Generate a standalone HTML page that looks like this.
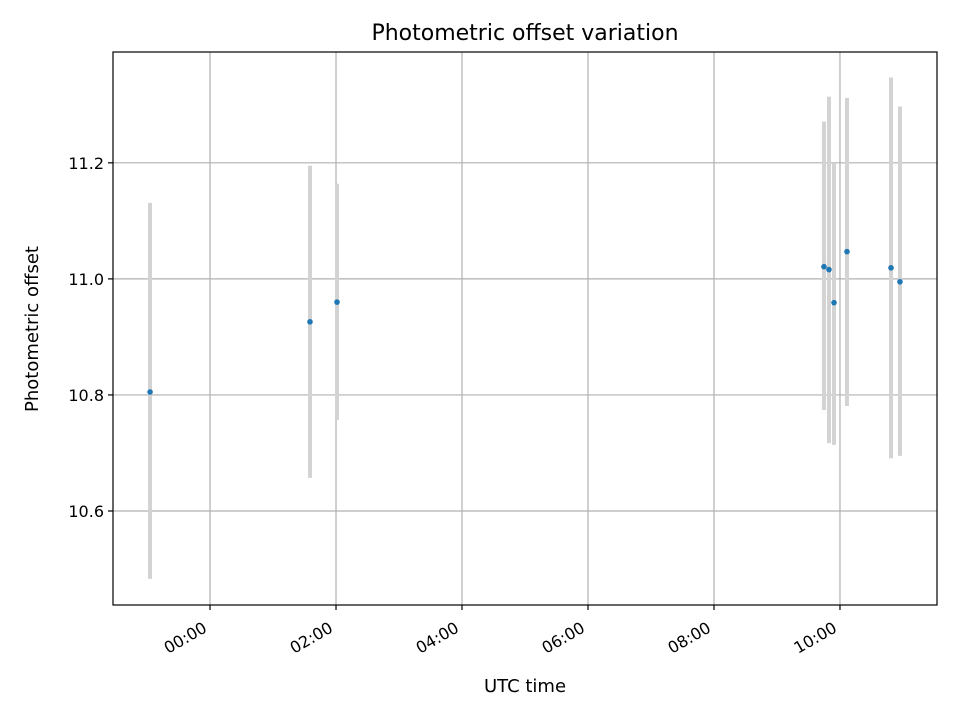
<!DOCTYPE html>
<html><head><meta charset="utf-8"><style>
body{margin:0;background:#fff}
svg{font-family:"DejaVu Sans","Liberation Sans",sans-serif}
</style></head><body>
<svg id="chart" width="960" height="720">
<rect width="960" height="720" fill="#fff"/>
<text x="525" y="40" font-size="22" text-anchor="middle">Photometric offset variation</text>
<g id="grid"></g>
<g id="errs"></g>
<g id="pts"></g>
<rect x="113" y="52" width="824" height="553" fill="none" stroke="#000" stroke-width="1.2"/>
<g id="ticks"></g>
<text x="525" y="692" font-size="18" text-anchor="middle">UTC time</text>
<text x="38" y="329" font-size="18" text-anchor="middle" transform="rotate(-90 38 329)">Photometric offset</text>
</svg>
<script>
// times in hours from 00:00 UTC
const times = [-0.952, 1.587, 2.016, 9.746, 9.825, 9.905, 10.111, 10.81, 10.952];
const offsets = [10.805, 10.926, 10.960, 11.021, 11.016, 10.959, 11.047, 11.019, 10.995];
const errUp = [11.131, 11.195, 11.164, 11.271, 11.314, 11.200, 11.312, 11.347, 11.297];
const errLo = [10.483, 10.657, 10.757, 10.774, 10.717, 10.714, 10.781, 10.691, 10.695];
const xTicks = [0, 2, 4, 6, 8, 10];
const xTickLabels = ["00:00", "02:00", "04:00", "06:00", "08:00", "10:00"];
const yTicks = [10.6, 10.8, 11.0, 11.2];
const yTickLabels = ["10.6", "10.8", "11.0", "11.2"];

const X0=113,X1=937,Y0=52,Y1=605;
const xMin=-1.54,xMax=11.54,yMin=10.438,yMax=11.391;
const xs=v=>X0+(v-xMin)/(xMax-xMin)*(X1-X0);
const ys=v=>Y1-(v-yMin)/(yMax-yMin)*(Y1-Y0);
const NS="http://www.w3.org/2000/svg";
function mk(tag,attrs,parent,txt){const e=document.createElementNS(NS,tag);for(const k in attrs)e.setAttribute(k,attrs[k]);if(txt!==undefined)e.textContent=txt;document.getElementById(parent).appendChild(e);return e;}

xTicks.forEach((t,i)=>{
  const x=xs(t);
  const g=mk('line',{x1:x,x2:x,y1:Y0,y2:Y1,stroke:'#b0b0b0','stroke-width':1.2},'grid');
  
  
  const tk=mk('line',{x1:x,x2:x,y1:Y1,y2:Y1+5,stroke:'#000','stroke-width':1.2},'ticks');
  
  
  const ax=x-2, ay=Y1+26;
  const lb=mk('text',{x:ax,y:ay,'font-size':16,'text-anchor':'end',transform:`rotate(-30 ${ax} ${ay})`},'ticks',xTickLabels[i]);
  
  
});
yTicks.forEach((t,i)=>{
  const y=ys(t);
  const g=mk('line',{x1:X0,x2:X1,y1:y,y2:y,stroke:'#b0b0b0','stroke-width':1.2},'grid');
  
  
  const tk=mk('line',{x1:X0-5,x2:X0,y1:y,y2:y,stroke:'#000','stroke-width':1.2},'ticks');
  
  
  const lb=mk('text',{x:X0-9,y:y+6,'font-size':16,'text-anchor':'end'},'ticks',yTickLabels[i]);
  
  
});
times.forEach((t,i)=>{
  const x=xs(t);
  const e=mk('line',{x1:x,x2:x,y1:ys(errUp[i]),y2:ys(errLo[i]),stroke:'#d3d3d3','stroke-width':4},'errs');
  
  
  const p=mk('circle',{cx:x,cy:ys(offsets[i]),r:2.8,fill:'#1f77b4'},'pts');
  
  
});
</script>
</body></html>
